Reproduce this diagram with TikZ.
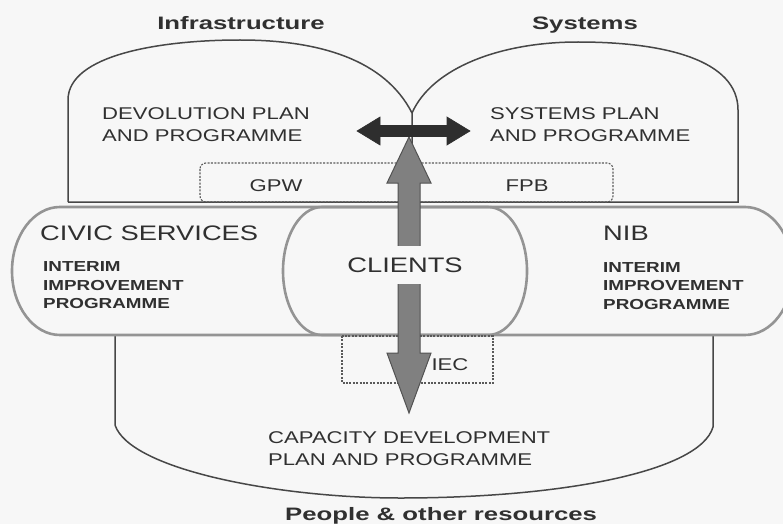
\documentclass[tikz,border=0pt]{standalone}
\usepackage{fontspec}
\setmainfont{Liberation Sans}
\newfontfamily\bodyfont[FakeStretch=1.3]{Liberation Sans}
\newfontfamily\headfont[FakeStretch=1.43]{Liberation Sans}
\definecolor{ink}{HTML}{303030}
\definecolor{paper}{HTML}{F7F7F7}

\begin{document}
\begin{tikzpicture}[x=1pt,y=-1pt,
  outline/.style={draw=black!72,line width=1.5pt},
  band/.style={draw=black!42,line width=2.6pt},
  boxline/.style={draw=black!65,line width=1.1pt,dash pattern=on 2pt off 1.4pt},
  headtext/.style={font={\headfont\bfseries\fontsize{18}{22}\selectfont},text=ink,inner sep=0pt},
  plantext/.style={font={\bodyfont\fontsize{17}{22}\selectfont},text=ink,align=left,inner sep=0pt,anchor=west},
  smalltext/.style={font={\bodyfont\bfseries\fontsize{14.5}{18.5}\selectfont},text=ink,align=left,inner sep=0pt,anchor=west},
  bigtext/.style={font={\bodyfont\fontsize{21}{24}\selectfont},text=ink,inner sep=0pt},
  boxtext/.style={font={\bodyfont\fontsize{17}{20}\selectfont},text=ink,inner sep=0pt},
  flowarrow/.style={fill=black!50,draw=black!68,line width=1pt,line join=miter},
  linkarrow/.style={fill=black!82,draw=black!82,line width=0.6pt,line join=miter}]

\clip (0,0) rectangle (783,524);
\fill[paper] (0,0) rectangle (783,524);

% the two domes on top
\draw[outline] (68,202) -- (68,100) .. controls (68,55) and (160,40) .. (240,40)
  .. controls (320,40) and (385,60) .. (412,113) -- (412,202);
\draw[outline] (412,113) .. controls (432,68) and (500,42) .. (578,42)
  .. controls (665,42) and (738,60) .. (738,110) -- (738,202) -- (68,202);

% bottom dome
\draw[outline] (115,336) -- (115,425) .. controls (130,470) and (280,498) .. (400,498)
  .. controls (560,498) and (700,472) .. (713,427) -- (713,336);

% middle band and the clients
\draw[band] (60,207) arc[start angle=270,end angle=90,x radius=48,y radius=64]
  -- (745,335) arc[start angle=90,end angle=-90,x radius=48,y radius=64] -- cycle;
\draw[band] (322,207) arc[start angle=270,end angle=90,x radius=39,y radius=64]
  -- (488,335) arc[start angle=90,end angle=-90,x radius=39,y radius=64] -- cycle;

% dotted boxes
\draw[boxline,rounded corners=6pt] (200,163) rectangle (613,202);
\draw[boxline] (342,336) rectangle (493,383);

\node[headtext,anchor=base] (infra) at (241,30) {Infrastructure};
\node[headtext,anchor=base] (systems) at (585,30) {Systems};
\node[headtext,anchor=base west] (people) at (285,520) {People \& other resources};

\node[plantext] (devplan) at (102,124.5) {DEVOLUTION PLAN\\AND PROGRAMME};
\node[plantext] (sysplan) at (490,124.5) {SYSTEMS PLAN\\AND PROGRAMME};
\node[plantext] (capplan) at (268,448.5) {CAPACITY DEVELOPMENT\\PLAN AND PROGRAMME};

\node[boxtext] (gpw) at (276,186) {GPW};
\node[boxtext] (fpb) at (527,186) {FPB};
\node[boxtext] (iec) at (450,365) {IEC};

\node[bigtext,anchor=west] (civic) at (40,233) {CIVIC SERVICES};
\node[bigtext,anchor=west] (nib) at (603,233) {NIB};
\node[smalltext] (civicprog) at (43,285.5) {INTERIM\\IMPROVEMENT\\PROGRAMME};
\node[smalltext] (nibprog) at (603,286) {INTERIM\\IMPROVEMENT\\PROGRAMME};

% arrows through the middle
\draw[flowarrow] (409,137) -- (431,183) -- (420,183) -- (420,353) -- (431,353) -- (409,413)
  -- (387,353) -- (398,353) -- (398,183) -- (387,183) -- cycle;
\node[bigtext,fill=paper,inner xsep=3pt,inner ysep=12pt] (clients) at (405,265) {CLIENTS};
\draw[linkarrow] (357,131) -- (380,117) -- (380,125.5) -- (447,125.5) -- (447,117) -- (470,131)
  -- (447,145) -- (447,136.5) -- (380,136.5) -- (380,145) -- cycle;

\end{tikzpicture}
\end{document}
